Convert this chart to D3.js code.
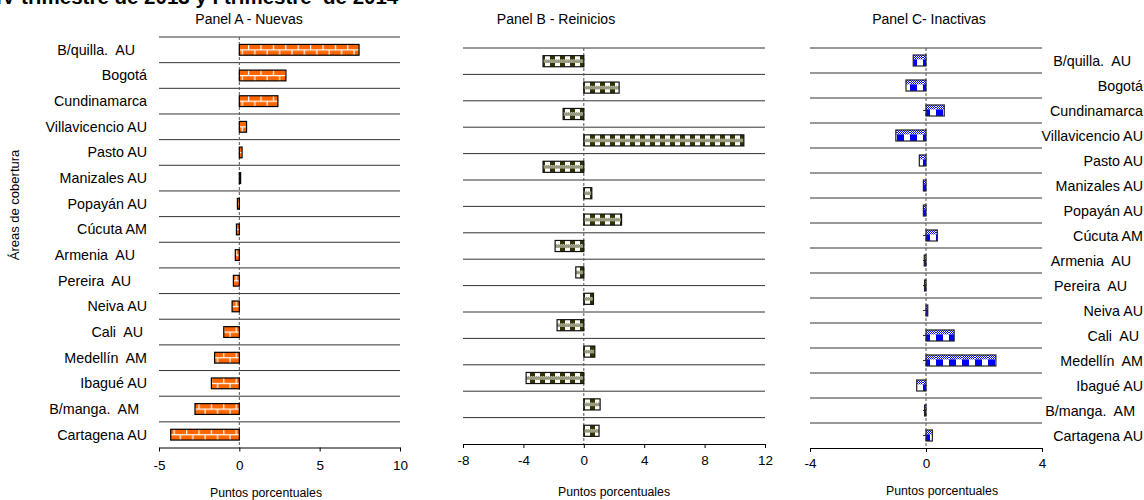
<!DOCTYPE html>
<html><head><meta charset="utf-8">
<script src="https://cdn.jsdelivr.net/npm/d3@7"></script>
<style>
body{margin:0;background:#fff;}
svg text{font-family:"Liberation Sans",Arial,sans-serif;white-space:pre;fill:#000;}
</style>
</head><body>
<svg id="chart" width="1144" height="500"></svg>
<script>
// ---------- DATA ----------
const categories = ["B/quilla.  AU   ", "Bogotá", "Cundinamarca", "Villavicencio AU", "Pasto AU",
  "Manizales AU", "Popayán AU", "Cúcuta AM", "Armenia  AU   ", "Pereira  AU    ", "Neiva AU",
  "Cali  AU ", "Medellín  AM", "Ibagué AU", "B/manga.  AM  ", "Cartagena AU"];
const nuevasValues = [7.45, 2.9, 2.4, 0.45, 0.17, 0.08, -0.12, -0.18, -0.25, -0.37, -0.45, -0.97, -1.54, -1.74, -2.76, -4.27];
const reiniciosValues = [-2.7, 2.34, -1.37, 10.6, -2.7, 0.53, 2.5, -1.9, -0.53, 0.64, -1.77, 0.73, -3.82, 1.08, 1.01];
const inactivasValues = [-0.44, -0.69, 0.63, -1.04, -0.23, -0.09, -0.09, 0.39, -0.06, -0.05, 0.06, 0.97, 2.41, -0.32, -0.05, 0.22];
const ticksA = [-5, 0, 5, 10];
const ticksB = [-8, -4, 0, 4, 8, 12];
const ticksC = [-4, 0, 4];
const panelTitles = ["Panel A - Nuevas", "Panel B - Reinicios", "Panel C- Inactivas"];
const axisTitle = "Puntos porcentuales";
const yAxisTitle = "Áreas de cobertura";
const headerText = "IV trimestre de 2013 y I trimestre  de 2014";

// ---------- SETUP ----------
const svg = d3.select("#chart");
const defs = svg.append("defs");

function finePattern(id, color) {
  const p = defs.append("pattern").attr("id", id).attr("patternUnits", "userSpaceOnUse")
    .attr("width", 2).attr("height", 2);
  p.append("rect").attr("width", 2).attr("height", 2).attr("fill", "#fff");
  p.append("rect").attr("width", 1).attr("height", 1).attr("fill", color);
  p.append("rect").attr("x", 1).attr("y", 1).attr("width", 1).attr("height", 1).attr("fill", color);
}
finePattern("fineB", "#333300");
finePattern("fineC", "#0000ff");

function brickPattern(id, h) {
  const w = 12.4;
  const p = defs.append("pattern").attr("id", id).attr("patternUnits", "userSpaceOnUse")
    .attr("width", w).attr("height", h);
  p.append("rect").attr("width", w).attr("height", h).attr("fill", "#ff6600");
  p.append("rect").attr("x", 0).attr("y", h / 2 - 0.5).attr("width", w).attr("height", 1.2).attr("fill", "#fff");
  p.append("rect").attr("x", 0).attr("y", 0).attr("width", 1.2).attr("height", h / 2).attr("fill", "#fff");
  p.append("rect").attr("x", w / 2).attr("y", h / 2).attr("width", 1.2).attr("height", h / 2).attr("fill", "#fff");
}
function checkPatternB(id, h) {
  const w = 10;
  const p = defs.append("pattern").attr("id", id).attr("patternUnits", "userSpaceOnUse")
    .attr("width", w).attr("height", h);
  p.append("rect").attr("width", w).attr("height", h).attr("fill", "#fff");
  p.append("rect").attr("x", 0).attr("y", 0).attr("width", 5).attr("height", h * 0.36).attr("fill", "#333300");
  p.append("rect").attr("x", 0).attr("y", h * 0.36).attr("width", w).attr("height", h * 0.3).attr("fill", "url(#fineB)");
  p.append("rect").attr("x", 0).attr("y", h * 0.66).attr("width", 5).attr("height", h * 0.34).attr("fill", "#333300");
}
function checkPatternC(id, h) {
  const w = 13;
  const p = defs.append("pattern").attr("id", id).attr("patternUnits", "userSpaceOnUse")
    .attr("width", w).attr("height", h);
  p.append("rect").attr("width", w).attr("height", h).attr("fill", "#fff");
  p.append("rect").attr("x", 0).attr("y", 0).attr("width", w).attr("height", h * 0.4).attr("fill", "url(#fineC)");
  p.append("rect").attr("x", 0).attr("y", h * 0.4).attr("width", 7).attr("height", h * 0.6).attr("fill", "#0000ff");
}

const panels = [
  { values: nuevasValues, domain: [-5, 10], ticks: ticksA, xr: [159, 400], yr: [37, 447.5],
    pad: 0.58, pat: "brick", patFn: brickPattern, stroke: "#000", title: panelTitles[0], titleX: 249,
    axisTitleX: 266, axisTitleY: 497, tickLabelY: 18, catLabels: "left", zeroTicks: false },
  { values: reiniciosValues, domain: [-8, 12], ticks: ticksB, xr: [463, 765], yr: [48, 444],
    pad: 0.58, pat: "checkB", patFn: checkPatternB, stroke: "#111", title: panelTitles[1], titleX: 556,
    axisTitleX: 614, axisTitleY: 496, tickLabelY: 16, catLabels: null, zeroTicks: false },
  { values: inactivasValues, domain: [-4, 4], ticks: ticksC, xr: [810, 1042], yr: [48, 448],
    pad: 0.56, pat: "checkC", patFn: checkPatternC, stroke: "#222", title: panelTitles[2], titleX: 929,
    axisTitleX: 942, axisTitleY: 495, tickLabelY: 15, catLabels: "right", zeroTicks: true }
];

panels.forEach((P) => {
  const n = P.values.length;
  const idx = d3.range(n);
  const x = d3.scaleLinear().domain(P.domain).range(P.xr);
  const y = d3.scaleBand().domain(idx).range(P.yr).paddingInner(P.pad).paddingOuter(P.pad / 2);
  const bw = y.bandwidth();
  P.patFn(P.pat, bw);
  const g = svg.append("g");

  const bounds = d3.range(n).map(i => y(i) - y.step() * P.pad / 2);
  g.selectAll("line.grid").data(bounds).join("line")
    .attr("x1", P.xr[0]).attr("x2", P.xr[1])
    .attr("y1", d => d).attr("y2", d => d)
    .attr("stroke", "#333").attr("stroke-width", 1);

  g.append("line").attr("x1", x(0)).attr("x2", x(0))
    .attr("y1", P.yr[0]).attr("y2", P.yr[1])
    .attr("stroke", "#555").attr("stroke-width", 1).attr("stroke-dasharray", "3,2");

  if (P.zeroTicks) {
    g.selectAll("line.zt").data(idx).join("line")
      .attr("x1", x(0) - 3).attr("x2", x(0))
      .attr("y1", i => y(i) + bw / 2).attr("y2", i => y(i) + bw / 2)
      .attr("stroke", "#333");
  }

  const bars = g.selectAll("g.bar").data(idx).join("g")
    .attr("transform", i => `translate(0,${y(i)})`);
  bars.append("rect")
    .attr("x", i => x(Math.min(0, P.values[i])))
    .attr("y", 0)
    .attr("width", i => Math.abs(x(P.values[i]) - x(0)))
    .attr("height", bw)
    .attr("fill", `url(#${P.pat})`)
    .attr("stroke", P.stroke).attr("stroke-width", 1.2);

  const ax = svg.append("g").attr("transform", `translate(0,${P.yr[1]})`)
    .call(d3.axisBottom(x).tickValues(P.ticks).tickSize(4).tickSizeOuter(0).tickFormat(d => String(d)));
  ax.select(".domain").attr("stroke", "#000");
  ax.selectAll(".tick line").attr("stroke", "#000");
  ax.selectAll(".tick text").attr("y", P.tickLabelY).attr("dy", "0.35em")
    .style("font-size", "13.5px").style("font-family", "'Liberation Sans',Arial,sans-serif").attr("fill", "#000");

  svg.append("text").attr("x", P.axisTitleX).attr("y", P.axisTitleY)
    .attr("text-anchor", "middle").style("font-size", "12.3px").text(axisTitle);

  svg.append("text").attr("x", P.titleX).attr("y", 24)
    .attr("text-anchor", "middle").style("font-size", "14px").text(P.title);

  if (P.catLabels) {
    const lx = P.catLabels === "left" ? 147 : 1143;
    svg.append("g").selectAll("text").data(idx).join("text")
      .attr("x", lx).attr("y", i => y(i) + bw / 2).attr("dy", "0.35em")
      .attr("text-anchor", "end").style("font-size", "14.3px")
      .text(i => categories[i]);
  }
});

svg.append("text").attr("transform", "translate(19,205) rotate(-90)")
  .attr("text-anchor", "middle").style("font-size", "13px").text(yAxisTitle);

svg.append("text").attr("x", -4).attr("y", 4)
  .style("font-size", "20.5px").style("font-weight", "bold").text(headerText);
</script>
</body></html>
